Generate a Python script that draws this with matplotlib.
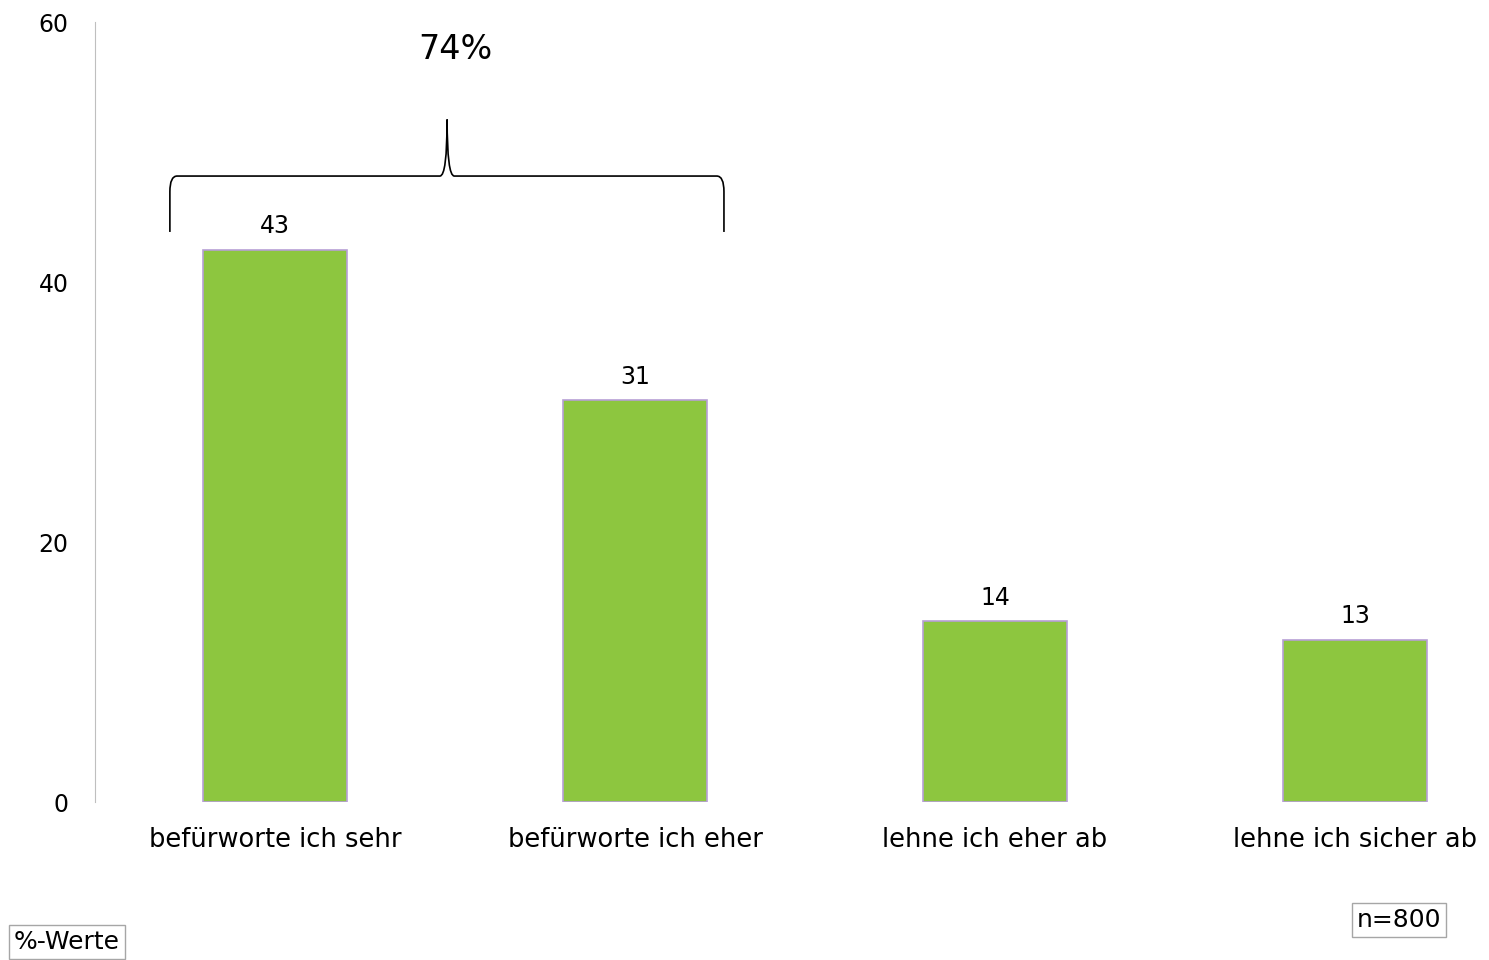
import numpy as np
import matplotlib.pyplot as plt
from matplotlib.path import Path
from matplotlib.patches import PathPatch

categories = ['befürworte ich sehr', 'befürworte ich eher', 'lehne ich eher ab', 'lehne ich sicher ab']
values = [42.5, 30.9, 13.9, 12.5]
value_labels = ['43', '31', '14', '13']
sum_label = '74%'

plt.rcParams['font.family'] = ['DejaVu Sans']

fig = plt.figure(figsize=(14.89, 9.6), dpi=100)
ax = fig.add_axes([95 / 1489, 158 / 960, 1394 / 1489, 780 / 960])

x = np.arange(len(categories))
bars = ax.bar(x, values, width=0.4, color='#8dc63f', edgecolor='#b79fd6', linewidth=1.2)

for b, lab in zip(bars, value_labels):
    ax.text(b.get_x() + b.get_width() / 2, b.get_height() + 0.9, lab,
            ha='center', va='bottom', fontsize=17)

ax.set_xlim(-0.5, 3.372)
ax.set_ylim(0, 60)
ax.set_yticks([0, 20, 40, 60])
ax.set_xticks(x)
ax.set_xticklabels(categories, fontsize=18.5)
ax.tick_params(axis='y', length=0, labelsize=17, pad=19)
ax.tick_params(axis='x', length=0, pad=18)
for s in ['top', 'right', 'bottom']:
    ax.spines[s].set_visible(False)
ax.spines['left'].set_color('#bfbfbf')

# geschweifte Klammer über den beiden ersten Balken
x0, x1, xm = -0.292, 1.247, 0.478
yb, yh, yt = 43.85, 48.15, 52.5
dx = 0.02
verts = [(x0, yb), (x0, yh - 1.2), (x0, yh), (x0 + dx, yh),
         (xm - dx, yh), (xm, yh), (xm, yt),
         (xm, yh), (xm + dx, yh),
         (x1 - dx, yh), (x1, yh), (x1, yh - 1.2), (x1, yb)]
codes = [Path.MOVETO, Path.LINETO, Path.CURVE3, Path.CURVE3,
         Path.LINETO, Path.CURVE3, Path.CURVE3,
         Path.CURVE3, Path.CURVE3,
         Path.LINETO, Path.CURVE3, Path.CURVE3, Path.LINETO]
ax.add_patch(PathPatch(Path(verts, codes), fill=False, lw=1.2, color='black', clip_on=False))
ax.text(0.5, 57.9, sum_label, ha='center', va='center', fontsize=24)

box = dict(boxstyle='square,pad=0.2', facecolor='white', edgecolor='#a6a6a6', linewidth=1)
fig.text(14 / 1489, 1 - 942 / 960, '%-Werte', fontsize=18, va='center', ha='left', bbox=box)
fig.text(1399 / 1489, 1 - 920 / 960, 'n=800', fontsize=18, va='center', ha='center', bbox=box)

fig.savefig('out.png', dpi=100)
